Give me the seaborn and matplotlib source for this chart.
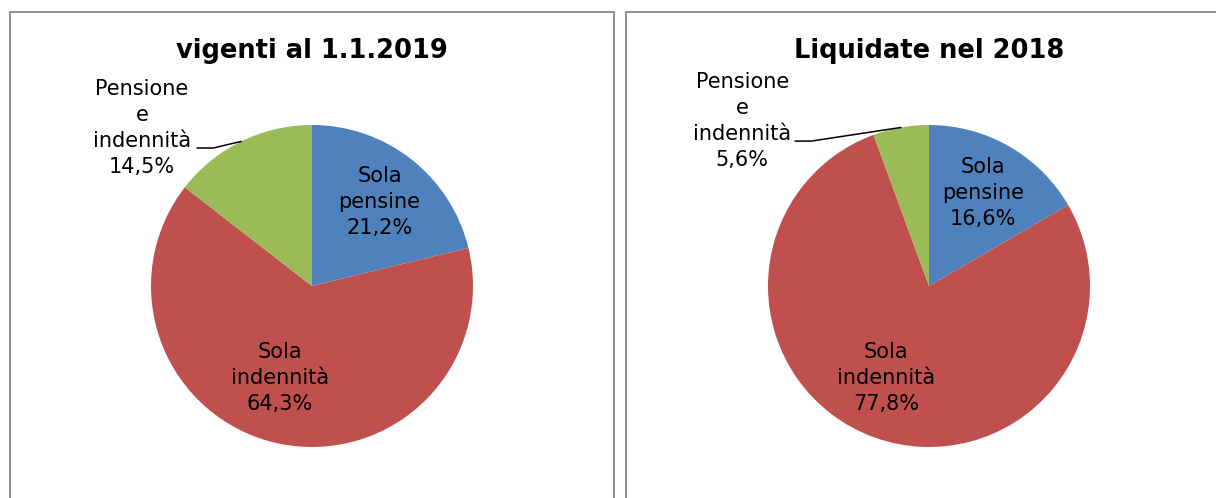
import numpy as np
import matplotlib
matplotlib.use("Agg")
import matplotlib.pyplot as plt
import seaborn as sns
from matplotlib.patches import Rectangle

sns.set_style("white")
plt.rcParams['font.family'] = ['DejaVu Sans']
plt.rcParams['text.color'] = 'black'

# data
categories = ["Sola\npensine", "Sola\nindennità", "Pensione\ne\nindennità"]
titles = ["vigenti al 1.1.2019", "Liquidate nel 2018"]
shares_vigenti = [21.2, 64.3, 14.5]
shares_liquidate = [16.6, 77.8, 5.6]
colors = ["#4F81BD", "#C0504D", "#9BBB59"]

W, H = 1216, 498
fig = plt.figure(figsize=(W / 100, H / 100), dpi=100)

# panel frames (pixels: left, right), top at y=12, running off the bottom
for x0, x1 in [(10, 614), (626, 1230)]:
    fig.patches.append(Rectangle((x0 / W, -0.1), (x1 - x0) / W, 1.1 - 12 / H,
                                 transform=fig.transFigure, fill=False,
                                 edgecolor="#868686", linewidth=1.3))

R = 161
centers = [(312, 286), (929, 286)]
# label offsets (relative to radius) and leader-line end for the small slice
label_pos = [
    [(0.42, 0.52), (-0.20, -0.57), (-1.056, 0.98)],
    [(0.335, 0.58), (-0.267, -0.57), (-1.16, 1.025)],
]
leader_end = [(-0.714, 0.857), (-0.832, 0.90)]

for i, shares in enumerate([shares_vigenti, shares_liquidate]):
    cx, cy = centers[i]
    ax = fig.add_axes([(cx - R) / W, (H - cy - R) / H, 2 * R / W, 2 * R / H])
    wedges, _ = ax.pie(shares, colors=colors, startangle=90, counterclock=False,
                       radius=1, wedgeprops=dict(linewidth=0))
    ax.set_xlim(-1, 1)
    ax.set_ylim(-1, 1)
    ax.axis("off")
    for j, (w, s) in enumerate(zip(wedges, shares)):
        lx, ly = label_pos[i][j]
        txt = f"{categories[j]}\n{s:.1f}%".replace(".", ",")
        ax.text(lx, ly, txt, ha="center", va="center", fontsize=15,
                linespacing=1.38, color="black", clip_on=False)
    # leader line for the small slice
    w = wedges[2]
    mid = np.deg2rad((w.theta1 + w.theta2) / 2)
    px, py = np.cos(mid), np.sin(mid)
    ex, ey = leader_end[i]
    line = ax.plot([ex, ex + 0.1, px], [ey, ey, py], color="black", lw=1.1)[0]
    line.set_clip_on(False)
    fig.text(cx / W, 1 - 51 / H, titles[i], ha="center", va="center",
             fontsize=18.5, fontweight="bold", color="black")

fig.savefig("out.png", dpi=100)
